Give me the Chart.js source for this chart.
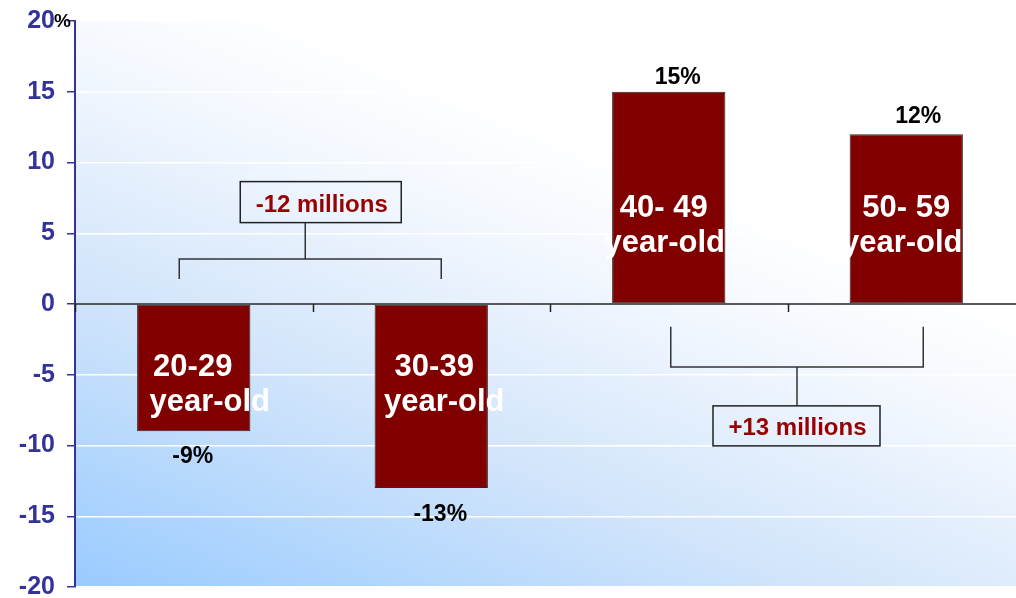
<!DOCTYPE html>
<html>
<head>
<meta charset="utf-8">
<script src="https://cdn.jsdelivr.net/npm/chart.js@4/dist/chart.umd.min.js"></script>
<style>
  html, body { margin: 0; padding: 0; background: #ffffff; overflow: hidden; }
  #wrap { width: 1016px; height: 598px; overflow: hidden; position: relative; }
  canvas { display: block; }
</style>
</head>
<body>
<div id="wrap"><canvas id="c" width="1026" height="598"></canvas></div>
<script>
// ---- data ----
const categories = ['20-29', '30-39', '40- 49', '50- 59'];
const ageSuffix = 'year-old';
const changePct = [-9, -13, 15, 12];
const yTicks = [-20, -15, -10, -5, 0, 5, 10, 15, 20];
const groupLabels = ['-12 millions', '+13 millions'];

const FONT = "'Liberation Sans', Arial, sans-serif";
const NAVY = '#333399';

// offsets for label placement (pixels, relative to each bar)
const valueLabelOffsets = [[-1, 32], [9, 33], [9, -8], [12, -11]];
const numberOffsetsX = [-1, 3, -5, 0];
const suffixOffsetsX = [16, 13, -4, -4];

let bgGradient = null;
function getGradient(ctx, area) {
  const g = ctx.createLinearGradient(area.left, area.bottom, area.left + 230, area.bottom - 560);
  g.addColorStop(0, '#99cbff');
  g.addColorStop(0.45, '#d0e4fb');
  g.addColorStop(0.8, '#f2f7fe');
  g.addColorStop(1, '#ffffff');
  return g;
}

const decor = {
  id: 'decor',
  beforeDraw(chart) {
    const { ctx, chartArea: a } = chart;
    bgGradient = getGradient(ctx, a);
    ctx.save();
    ctx.fillStyle = bgGradient;
    ctx.fillRect(a.left, a.top, a.right - a.left, a.bottom - a.top);
    ctx.restore();
  },
  afterDatasetsDraw(chart) {
    const { ctx, chartArea: a, scales } = chart;
    const x = scales.x, y = scales.y;
    const y0 = y.getPixelForValue(0);
    const meta = chart.getDatasetMeta(0);
    const catW = (a.right - a.left) / categories.length;
    ctx.save();
    // zero line
    ctx.strokeStyle = '#222';
    ctx.lineWidth = 1.5;
    ctx.beginPath();
    ctx.moveTo(a.left, y0);
    ctx.lineTo(a.right, y0);
    ctx.stroke();
    // category boundary ticks
    ctx.beginPath();
    for (let i = 0; i <= categories.length; i++) {
      const bx = Math.round(x.getPixelForValue(i) - catW / 2) + 0.5;
      ctx.moveTo(bx, y0);
      ctx.lineTo(bx, y0 + 8);
    }
    ctx.stroke();

    // brackets
    ctx.strokeStyle = '#333';
    ctx.lineWidth = 1.5;
    const b0 = meta.data[0], b1 = meta.data[1], b2 = meta.data[2], b3 = meta.data[3];
    // bracket 1 (negative group)
    const l1 = b0.x - 14.5, r1 = b1.x + 10, hy1 = y.getPixelForValue(3.18), ly1 = y.getPixelForValue(1.77);
    const m1 = (l1 + r1) / 2 - 5;
    const box1 = { x: m1 - 65, y: y.getPixelForValue(8.65), w: 161, h: 41 };
    ctx.beginPath();
    ctx.moveTo(l1, ly1); ctx.lineTo(l1, hy1); ctx.lineTo(r1, hy1); ctx.lineTo(r1, ly1);
    ctx.moveTo(m1, hy1); ctx.lineTo(m1, box1.y + box1.h);
    ctx.stroke();
    // bracket 2 (positive group)
    const l2 = b2.x + 2, r2 = b3.x + 17, hy2 = y.getPixelForValue(-4.45), ly2 = y.getPixelForValue(-1.6);
    const m2 = (l2 + r2) / 2;
    const box2 = { x: m2 - 84, y: y.getPixelForValue(-7.2), w: 167, h: 40 };
    ctx.beginPath();
    ctx.moveTo(l2, ly2); ctx.lineTo(l2, hy2); ctx.lineTo(r2, hy2); ctx.lineTo(r2, ly2);
    ctx.moveTo(m2, hy2); ctx.lineTo(m2, box2.y);
    ctx.stroke();
    // boxes
    [[box1, groupLabels[0]], [box2, groupLabels[1]]].forEach(([b, t]) => {
      ctx.fillStyle = bgGradient;
      ctx.fillRect(b.x, b.y, b.w, b.h);
      ctx.strokeStyle = '#222';
      ctx.lineWidth = 1.5;
      ctx.strokeRect(b.x, b.y, b.w, b.h);
      ctx.fillStyle = '#990000';
      ctx.font = 'bold 24px ' + FONT;
      ctx.textAlign = 'center';
      ctx.textBaseline = 'alphabetic';
      ctx.fillText(t, b.x + b.w / 2 + 1, b.y + b.h - 11);
    });

    // value labels
    ctx.fillStyle = '#000';
    ctx.font = 'bold 23px ' + FONT;
    ctx.textAlign = 'center';
    meta.data.forEach((bar, i) => {
      const v = changePct[i];
      const [dx, dy] = valueLabelOffsets[i];
      ctx.fillText(v + '%', bar.x + dx, bar.y + dy);
    });

    // in-bar category labels
    ctx.fillStyle = '#ffffff';
    ctx.font = 'bold 31px ' + FONT;
    meta.data.forEach((bar, i) => {
      const neg = changePct[i] < 0;
      const base1 = neg ? y0 + 72 : y0 - 87;
      const base2 = neg ? y0 + 107 : y0 - 52;
      ctx.fillText(categories[i], bar.x + numberOffsetsX[i], base1);
      ctx.fillText(ageSuffix, bar.x + suffixOffsetsX[i], base2);
    });

    // percent sign on top tick
    ctx.fillStyle = '#000';
    ctx.font = 'bold 19px ' + FONT;
    ctx.textAlign = 'left';
    ctx.fillText('%', 54, y.getPixelForValue(yTicks[yTicks.length - 1]) + 6);
    ctx.restore();
  }
};

new Chart(document.getElementById('c'), {
  type: 'bar',
  data: {
    labels: categories,
    datasets: [{
      data: changePct,
      backgroundColor: '#800000',
      borderColor: '#2a2a2a',
      borderWidth: 1,
      borderSkipped: false,
      barPercentage: 0.477,
      categoryPercentage: 1
    }]
  },
  options: {
    responsive: false,
    animation: false,
    devicePixelRatio: 1,
    layout: { padding: { top: 21, bottom: 11, left: 0, right: 1 } },
    plugins: { legend: { display: false }, tooltip: { enabled: false } },
    scales: {
      x: { display: false },
      y: {
        min: yTicks[0],
        max: yTicks[yTicks.length - 1],
        afterBuildTicks(scale) { scale.ticks = yTicks.map(v => ({ value: v })); },
        afterFit(scale) { scale.width = 75; scale.paddingTop = 0; scale.paddingBottom = 0; },
        ticks: {
          stepSize: 5,
          color: NAVY,
          font: { family: FONT, size: 25, weight: 'bold' },
          padding: 12,
          callback: v => String(v)
        },
        grid: { color: '#ffffff', lineWidth: 1.5, tickColor: NAVY, tickLength: 8, drawTicks: true },
        border: { color: NAVY, width: 2 }
      }
    }
  },
  plugins: [decor]
});
</script>
</body>
</html>
